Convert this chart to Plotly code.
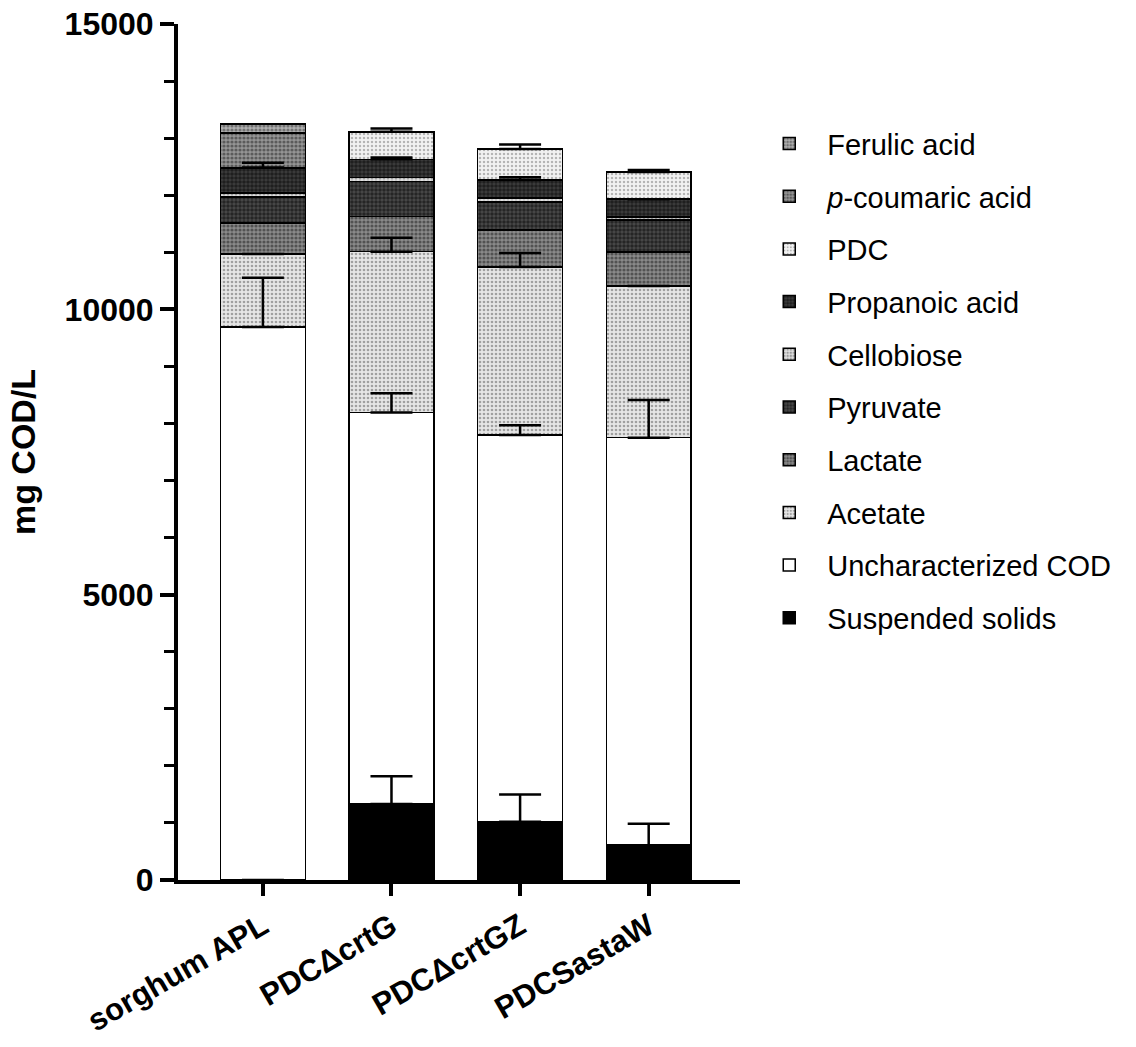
import numpy as np
import plotly.graph_objects as go

# Samples
categories = ["sorghum APL", "PDCΔcrtG", "PDCΔcrtGZ", "PDCSastaW"]

# COD contribution of each fraction (mg COD/L), bottom of the stack first
suspended_solids = [0, 1330, 1020, 610]
uncharacterized = [9690, 6860, 6780, 7140]
acetate = [1280, 2820, 2940, 2660]
lactate = [540, 620, 650, 595]
pyruvate = [460, 610, 490, 560]
cellobiose = [70, 70, 70, 50]
propanoic_acid = [440, 320, 315, 315]
pdc = [0, 480, 545, 475]
p_coumaric_acid = [610, 0, 0, 0]
ferulic_acid = [160, 0, 0, 0]

# Upward error (SD) for the fractions that carry one
err_suspended = [0, 490, 480, 375]
err_uncharacterized = [865, 340, 170, 660]
err_acetate = [0, 245, 245, 0]
err_propanoic = [90, 30, 50, 0]
err_pdc = [0, 60, 80, 35]

y_ticks = [0, 5000, 10000, 15000]


def halftone(bg, fg, solidity):
    return dict(shape=".", fgcolor=fg, bgcolor=bg, size=4, solidity=solidity)


series = [
    ("Suspended solids", suspended_solids, dict(color="black")),
    ("Uncharacterized COD", uncharacterized, dict(color="white")),
    ("Acetate", acetate, dict(color="#d4d4d4", pattern=halftone("#e6e6e6", "#5a5a5a", 0.35))),
    ("Lactate", lactate, dict(color="#5e5e5e", pattern=halftone("#8a8a8a", "#1a1a1a", 0.5))),
    ("Pyruvate", pyruvate, dict(color="#252525", pattern=halftone("#4a4a4a", "#000", 0.6))),
    ("Cellobiose", cellobiose, dict(color="#bdbdbd", pattern=halftone("#e0e0e0", "#555", 0.45))),
    ("Propanoic acid", propanoic_acid, dict(color="#1a1a1a", pattern=halftone("#3e3e3e", "#000", 0.65))),
    ("PDC", pdc, dict(color="#e4e4e4", pattern=halftone("#f2f2f2", "#777", 0.3))),
    ("<i>p</i>-coumaric acid", p_coumaric_acid, dict(color="#6a6a6a", pattern=halftone("#959595", "#222", 0.5))),
    ("Ferulic acid", ferulic_acid, dict(color="#8c8c8c", pattern=halftone("#b0b0b0", "#333", 0.5))),
]

fig = go.Figure()
for i, (name, vals, style) in enumerate(series):
    fig.add_trace(go.Bar(
        x=categories, y=vals, name=name, width=0.66,
        legendgroup=f"g{i}", legendrank=1000 - 10 * i,
        marker=dict(line=dict(color="black", width=1.5), **style),
    ))

# Error bars drawn above all segments, at the top of their own segment
stack = np.cumsum([s[1] for s in series], axis=0)
error_sets = [(0, err_suspended), (1, err_uncharacterized), (2, err_acetate),
              (6, err_propanoic), (7, err_pdc)]
for idx, errs in error_sets:
    fig.add_trace(go.Scatter(
        x=categories, y=stack[idx], mode="markers",
        marker=dict(size=1, color="rgba(0,0,0,0)"),
        error_y=dict(type="data", symmetric=False, array=errs,
                     arrayminus=[0] * len(errs), color="black",
                     thickness=2.5, width=21),
        showlegend=False, hoverinfo="skip",
    ))

font_family = "Liberation Sans, Arial, sans-serif"
fig.update_layout(
    barmode="stack",
    width=1136, height=1047,
    margin=dict(l=178, r=396, t=24, b=167),
    paper_bgcolor="white", plot_bgcolor="white",
    font=dict(family=font_family, color="black"),
    showlegend=True,
    legend=dict(
        x=1.02, y=0.89, xanchor="left", yanchor="top",
        traceorder="grouped", tracegroupgap=12,
        font=dict(size=29, family=font_family, color="black"),
        itemwidth=66,
    ),
    xaxis=dict(
        range=[-0.66, 3.71], showline=True, linecolor="black", linewidth=4,
        ticks="outside", ticklen=12, tickwidth=4, tickcolor="black",
        tickangle=-30, showgrid=False, zeroline=False, automargin=False,
        tickfont=dict(size=31, family=font_family, weight="bold"),
    ),
    yaxis=dict(
        range=[0, 15000], showline=True, linecolor="black", linewidth=4,
        ticks="outside", ticklen=14, tickwidth=4, tickcolor="black",
        tickvals=y_ticks, ticktext=[str(v) for v in y_ticks],
        showgrid=False, zeroline=False, automargin=False,
        tickfont=dict(size=32, family=font_family, weight="bold"),
        minor=dict(dtick=1000, ticks="outside", ticklen=10, tickwidth=3, tickcolor="black", showgrid=False),
        title=dict(text="mg COD/L", font=dict(size=34, family=font_family, weight="bold"), standoff=20),
    ),
)

fig.write_html("out.html")
